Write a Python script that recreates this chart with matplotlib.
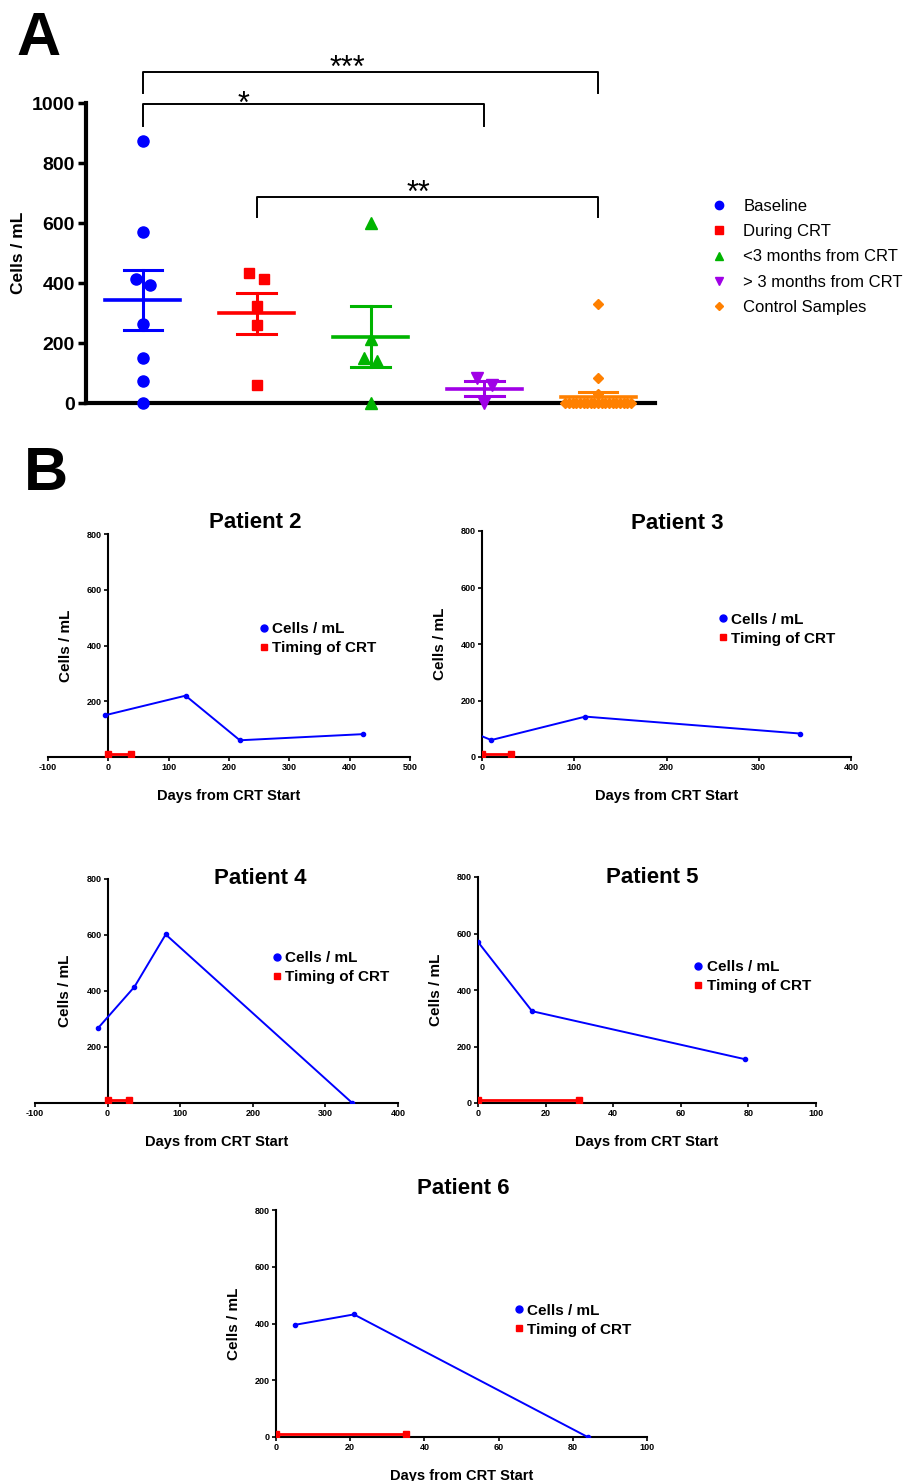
import numpy as np
import matplotlib
matplotlib.use('Agg')
import matplotlib.pyplot as plt
from matplotlib.lines import Line2D

plt.rcParams['font.family'] = ['Liberation Sans', 'DejaVu Sans']
plt.rcParams['axes.unicode_minus'] = False

# panel A data
groups = ['Baseline', 'During CRT', '<3 months from CRT', '> 3 months from CRT', 'Control Samples']
baseline = [875, 570, 415, 395, 265, 150, 75, 0]
during_crt = [435, 415, 325, 260, 60]
lt3_months = [600, 215, 150, 140, 0]
gt3_months = [85, 60, 0]
controls = [330, 85, 30] + [0] * 19
group_vals = [baseline, during_crt, lt3_months, gt3_months, controls]
colors = ['#0000FF', '#FF0000', '#00B400', '#A000E6', '#FF8000']
markers = ['o', 's', '^', 'v', 'D']
msizes = [8, 7.5, 8, 8, 5.5]
leg_sizes = [6, 6, 6, 6, 4.5]
spread = [0.13, 0.13, 0.12, 0.13, 0.032]

# significance brackets: (left group, right group, label)
sig = [(1, 5, '***'), (1, 4, '*'), (2, 5, '**')]

# panel B data
p2_days = [-5, 128, 218, 422]
p2_cells = [150, 220, 60, 82]
p2_crt = [0, 37]
p3_days = [-5, 10, 112, 345]
p3_cells = [80, 60, 143, 83]
p3_crt = [0, 31]
p4_days = [-13, 37, 80, 337]
p4_cells = [268, 415, 602, 0]
p4_crt = [0, 30]
p5_days = [0, 16, 79]
p5_cells = [570, 325, 155]
p5_crt = [0, 30]
p6_days = [5, 21, 84]
p6_cells = [395, 432, 0]
p6_crt = [0, 35]
crt_level = 10

W, H = 909, 1481
fig = plt.figure(figsize=(W / 100, H / 100), dpi=100)


def box(l, r, t, b):
    return [l / W, 1 - b / H, (r - l) / W, (b - t) / H]


def swarm(vals, thr, dx):
    order = sorted(range(len(vals)), key=lambda i: -vals[i])
    offs = [0.0] * len(vals)
    clusters, cur = [], []
    for i in order:
        if cur and vals[cur[-1]] - vals[i] > thr:
            clusters.append(cur)
            cur = []
        cur.append(i)
    clusters.append(cur)
    for c in clusters:
        n = len(c)
        for j, i in enumerate(c):
            offs[i] = (j - (n - 1) / 2) * dx
    return offs


# ---------------- panel A ----------------
ax = fig.add_axes(box(86, 655, 103, 403))
for k, vals in enumerate(group_vals):
    xc = k + 1
    offs = swarm(vals, 30 if k < 4 else 25, spread[k])
    ax.plot(xc + np.array(offs), vals, linestyle='none', marker=markers[k],
            ms=msizes[k], color=colors[k], mec=colors[k], zorder=4, clip_on=False)
    v = np.array(vals, dtype=float)
    m = v.mean()
    sem = v.std(ddof=1) / np.sqrt(len(v))
    ax.plot([xc - 0.33, xc + 0.33], [m, m], color=colors[k], lw=2.6, zorder=5, clip_on=False)
    ax.plot([xc, xc], [m - sem, m + sem], color=colors[k], lw=2.2, zorder=5)
    for yy in (m - sem, m + sem):
        ax.plot([xc - 0.17, xc + 0.17], [yy, yy], color=colors[k], lw=2.2, zorder=5)

ax.set_xlim(0.5, 5.5)
ax.set_ylim(0, 1000)
ax.set_xticks([])
ax.set_yticks([0, 200, 400, 600, 800, 1000])
ax.tick_params(axis='y', direction='out', length=6, width=2.5, labelsize=14, pad=2)
for t in ax.get_yticklabels():
    t.set_fontweight('bold')
ax.spines['top'].set_visible(False)
ax.spines['right'].set_visible(False)
ax.spines['left'].set_linewidth(3)
ax.spines['bottom'].set_linewidth(3)
ax.set_ylabel('Cells / mL', fontsize=12.5, fontweight='bold', labelpad=4)

bracket_y = {'***': (1103, 1033, 1115, -0.2), '*': (997, 923, 995, -0.62), '**': (687, 620, 697, -0.08)}
for g1, g2, lab in sig:
    top, low, ty, dxl = bracket_y[lab]
    ax.plot([g1, g1, g2, g2], [low, top, top, low], color='black', lw=1.4, clip_on=False)
    ax.text((g1 + g2) / 2 + dxl, ty, lab, ha='center', va='center', fontsize=22, clip_on=False)

handles = [Line2D([], [], linestyle='none', marker=markers[k], color=colors[k], ms=leg_sizes[k])
           for k in range(5)]
ax.legend(handles, groups, loc='center left', bbox_to_anchor=(1.097, 0.487), frameon=False,
          fontsize=12, labelspacing=0.62, handlelength=1.0, handletextpad=0.98,
          borderpad=0, borderaxespad=0)

fig.text(16 / W, 1 - 55 / H, 'A', fontsize=44, fontweight='bold', va='baseline')
fig.text(24 / W, 1 - 490 / H, 'B', fontsize=44, fontweight='bold', va='baseline')

# ---------------- panel B ----------------
patients = [
    ('Patient 2', p2_days, p2_cells, p2_crt, (48, 410, 534, 757), (-100, 500), 100, (0.572, 1.05), (0.586, 0.531)),
    ('Patient 3', p3_days, p3_cells, p3_crt, (482, 851, 531, 757), (0, 400), 100, (0.528, 1.035), (0.642, 0.566)),
    ('Patient 4', p4_days, p4_cells, p4_crt, (35, 398, 879, 1103), (-100, 400), 100, (0.62, 1.004), (0.656, 0.604)),
    ('Patient 5', p5_days, p5_cells, p5_crt, (478, 816, 877, 1103), (0, 100), 20, (0.515, 0.996), (0.64, 0.56)),
    ('Patient 6', p6_days, p6_cells, p6_crt, (276, 647, 1210, 1437), (0, 100), 20, (0.504, 1.093), (0.644, 0.515)),
]

for name, days, cells, crt, pbox, xl, step, tpos, lpos in patients:
    a = fig.add_axes(box(*pbox))
    a.plot(days, cells, color='#0000FF', lw=1.4, marker='o', ms=3, zorder=3)
    a.plot(crt, [crt_level, crt_level], color='#FF0000', lw=2, marker='s', ms=4, zorder=3)
    a.set_xlim(*xl)
    a.set_ylim(0, 800)
    a.set_xticks(np.arange(xl[0], xl[1] + 1, step))
    if xl[0] < 0:
        a.set_yticks([200, 400, 600, 800])
    else:
        a.set_yticks([0, 200, 400, 600, 800])
    a.spines['left'].set_position(('data', 0))
    a.spines['top'].set_visible(False)
    a.spines['right'].set_visible(False)
    a.spines['left'].set_linewidth(1.5)
    a.spines['bottom'].set_linewidth(1.5)
    a.tick_params(direction='out', length=3, width=1.2, labelsize=6.5, pad=1.5)
    for t in a.get_xticklabels() + a.get_yticklabels():
        t.set_fontweight('bold')
    a.set_ylabel('Cells / mL', fontsize=11, fontweight='bold', labelpad=10)
    a.set_xlabel('Days from CRT Start', fontsize=10.5, fontweight='bold', labelpad=12)
    a.text(tpos[0], tpos[1], name, transform=a.transAxes, ha='center', va='center',
           fontsize=16, fontweight='bold')
    lh = [Line2D([], [], linestyle='none', marker='o', color='#0000FF', ms=5),
          Line2D([], [], linestyle='none', marker='s', color='#FF0000', ms=4.5)]
    a.legend(lh, ['Cells / mL', 'Timing of CRT'], loc='center left', bbox_to_anchor=lpos,
             frameon=False, prop={'size': 11, 'weight': 'bold'}, labelspacing=0.33,
             handlelength=0.5, handletextpad=0.3, borderpad=0, borderaxespad=0)

fig.savefig('out.png', dpi=100)
